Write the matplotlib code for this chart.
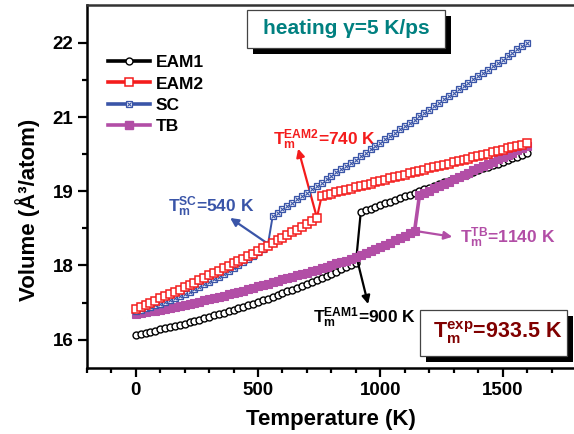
import numpy as np
import matplotlib
matplotlib.use("Agg")
import matplotlib.pyplot as plt
from matplotlib.lines import Line2D
from matplotlib.patches import Rectangle

plt.rcParams['font.family'] = ['Liberation Sans', 'DejaVu Sans']
plt.rcParams['font.weight'] = 'bold'
plt.rcParams['mathtext.fontset'] = 'custom'
plt.rcParams['mathtext.rm'] = 'Liberation Sans:bold'
plt.rcParams['mathtext.it'] = 'Liberation Sans:bold'
plt.rcParams['mathtext.bf'] = 'Liberation Sans:bold'

# temperature grid (K), every 20 K
temp = np.arange(0, 1601, 20)

# volume per atom (in the plot's own y units)
eam1 = [16.10, 16.12, 16.14, 16.16, 16.18, 16.21, 16.23, 16.25, 16.28, 16.30,
        16.32, 16.35, 16.38, 16.40, 16.43, 16.46, 16.49, 16.51, 16.54, 16.57,
        16.60, 16.64, 16.67, 16.70, 16.73, 16.77, 16.80, 16.83, 16.87, 16.90,
        16.94, 16.98, 17.01, 17.05, 17.09, 17.13, 17.17, 17.21, 17.25, 17.29,
        17.33, 17.37, 17.42, 17.46, 17.50, 17.55,
        18.58, 18.62, 18.65, 18.69, 18.72, 18.76, 18.79, 18.83, 18.86, 18.90,
        18.93, 18.97, 19.00, 19.04, 19.07, 19.11, 19.14, 19.18, 19.21, 19.25,
        19.28, 19.32, 19.35, 19.39, 19.42, 19.46, 19.49, 19.53, 19.56, 19.60,
        19.63, 19.67, 19.70, 19.74, 19.77]
eam2 = [16.62, 16.66, 16.71, 16.75, 16.79, 16.84, 16.88, 16.92, 16.97, 17.01,
        17.06, 17.11, 17.15, 17.20, 17.25, 17.30, 17.34, 17.39, 17.44, 17.49,
        17.54, 17.59, 17.64, 17.69, 17.74, 17.80, 17.85, 17.90, 17.95, 18.01,
        18.06, 18.11, 18.17, 18.22, 18.28, 18.34, 18.39, 18.45,
        18.90, 18.93, 18.95, 18.98, 19.00, 19.03, 19.05, 19.08, 19.10, 19.13,
        19.15, 19.18, 19.21, 19.23, 19.26, 19.28, 19.31, 19.33, 19.36, 19.38,
        19.41, 19.43, 19.46, 19.48, 19.51, 19.54, 19.56, 19.59, 19.61, 19.64,
        19.66, 19.69, 19.71, 19.74, 19.76, 19.79, 19.81, 19.84, 19.87, 19.89,
        19.92, 19.94, 19.97]
sc = [16.58, 16.61, 16.64, 16.67, 16.70, 16.73, 16.77, 16.81, 16.85, 16.89,
      16.93, 16.97, 17.02, 17.07, 17.12, 17.17, 17.22, 17.27, 17.33, 17.39,
      17.45, 17.51, 17.57, 17.64, 17.70, 17.77, 17.84, 17.91,
      18.50, 18.57, 18.64, 18.70, 18.77, 18.84, 18.90, 18.97, 19.04, 19.11,
      19.17, 19.24, 19.31, 19.38, 19.44, 19.51, 19.58, 19.64, 19.71, 19.78,
      19.85, 19.91, 19.98, 20.05, 20.12, 20.18, 20.25, 20.32, 20.38, 20.45,
      20.52, 20.59, 20.65, 20.72, 20.79, 20.86, 20.92, 20.99, 21.06, 21.13,
      21.19, 21.26, 21.33, 21.39, 21.46, 21.53, 21.60, 21.66, 21.73, 21.80,
      21.87, 21.93, 22.00]
tb = [16.52, 16.54, 16.55, 16.57, 16.59, 16.61, 16.63, 16.65, 16.67, 16.69,
      16.71, 16.73, 16.75, 16.77, 16.80, 16.82, 16.84, 16.87, 16.89, 16.92,
      16.94, 16.97, 16.99, 17.02, 17.05, 17.08, 17.10, 17.13, 17.16, 17.19,
      17.22, 17.25, 17.27, 17.30, 17.32, 17.35, 17.38, 17.41, 17.44, 17.47,
      17.50, 17.54, 17.57, 17.60, 17.64, 17.67, 17.71, 17.75, 17.79, 17.83,
      17.87, 17.92, 17.96, 18.01, 18.06, 18.10, 18.15, 18.20,
      18.92, 18.97, 19.01, 19.06, 19.10, 19.15, 19.19, 19.24, 19.28, 19.33,
      19.37, 19.42, 19.47, 19.51, 19.56, 19.60, 19.65, 19.69, 19.74, 19.78,
      19.83, 19.87, 19.92]

# y ticks as printed on the original (evenly spaced, labels as shown)
ytick_pos = [16, 17.5, 19, 20.5, 22]
ytick_lab = ['16', '18', '19', '21', '22']

black = 'black'
red = '#f41c1c'
blue = '#3a55a8'
magenta = '#b24ea6'
teal = '#008080'
darkred = '#800000'

W, H = 574, 434
fig = plt.figure(figsize=(W / 100, H / 100), dpi=100)
ax = fig.add_axes([86.8 / W, 1 - 367.9 / H, 486.8 / W, 362.7 / H])

ax.plot(temp, eam1, '-o', color=black, lw=1.6, ms=5.0, mfc='white', mew=1.0, zorder=3)
ax.plot(temp, tb, '-s', color=magenta, lw=2.6, ms=6.0, mfc=magenta, mew=0.8, zorder=4)
ax.plot(temp, sc, '-s', color=blue, lw=1.4, ms=4.8, mfc='white', mew=0.9, zorder=5)
ax.plot(temp, sc, 'x', color=blue, ms=3.4, mew=0.8, zorder=5)
ax.plot(temp, eam2, '-s', color=red, lw=1.5, ms=5.2, mfc='white', mew=1.1, zorder=6)

ax.set_xlim(-200, 1790)
ax.set_ylim(15.43, 22.76)
ax.set_xticks([0, 500, 1000, 1500])
ax.set_xticks(np.arange(-200, 1790, 100), minor=True)
ax.set_yticks(ytick_pos)
ax.set_yticklabels(ytick_lab)
ax.set_yticks([16.75, 18.25, 19.75, 21.25], minor=True)
ax.tick_params(which='both', direction='out', width=1.6, labelsize=13.5)
ax.tick_params(which='major', length=6.5)
ax.tick_params(which='minor', length=3.6)
ax.tick_params(axis='x', pad=4)
ax.tick_params(axis='y', pad=3)
for s in ['left', 'bottom', 'top']:
    ax.spines[s].set_linewidth(1.8)
ax.spines['top'].set_color('#333333')
ax.spines['right'].set_visible(False)

fig.text(331 / W, 1 - 420 / H, 'Temperature (K)', ha='center', va='center', fontsize=16)
fig.text(27.5 / W, 1 - 210 / H, 'Volume (Å³/atom)', ha='center', va='center',
         rotation=90, fontsize=16)

# legend
handles = [
    Line2D([], [], color=black, lw=2.6, marker='o', ms=5.0, mfc='white', mew=1.0),
    Line2D([], [], color=red, lw=2.6, marker='s', ms=5.2, mfc='white', mew=1.1),
    (Line2D([], [], color=blue, lw=2.6, marker='s', ms=4.8, mfc='white', mew=0.9),
     Line2D([], [], color=blue, ls='none', marker='x', ms=3.4, mew=0.8)),
    Line2D([], [], color=magenta, lw=2.6, marker='s', ms=6.0, mfc=magenta),
]
ax.legend(handles, ['EAM1', 'EAM2', 'SC', 'TB'], loc='upper left',
          bbox_to_anchor=(108 / W, 1 - 55 / H), bbox_transform=fig.transFigure,
          frameon=False, borderpad=0, borderaxespad=0, handlelength=2.4,
          handletextpad=0.35, labelspacing=0.36, fontsize=12.5, numpoints=1)

# melting point annotations
arrow = dict(arrowstyle='-|>', lw=1.6, mutation_scale=12, shrinkA=0, shrinkB=0)
ax.annotate('', xy=(664, 19.86), xytext=(741, 18.46),
            arrowprops=dict(arrow, color=red))
ax.text(561, 19.93, r'$\mathregular{T_m^{EAM2}}$=740 K', color=red,
        fontsize=12.5, ha='left', va='baseline')
ax.annotate('', xy=(386, 18.46), xytext=(540, 17.94),
            arrowprops=dict(arrow, color=blue))
ax.text(132, 18.58, r'$\mathregular{T_m^{SC}}$=540 K', color=blue,
        fontsize=12.5, ha='left', va='baseline')
ax.annotate('', xy=(950, 16.72), xytext=(905, 17.62),
            arrowprops=dict(arrow, color=black))
ax.text(725, 16.34, r'$\mathregular{T_m^{EAM1}}$=900 K', color=black,
        fontsize=12.5, ha='left', va='baseline')
ax.annotate('', xy=(1294, 18.08), xytext=(1140, 18.20),
            arrowprops=dict(arrow, color=magenta))
ax.text(1326, 17.95, r'$\mathregular{T_m^{TB}}$=1140 K', color=magenta,
        fontsize=12.5, ha='left', va='baseline')


def shadow_box(x0, y0, x1, y1, off=6):
    fig.add_artist(Rectangle(((x0 + off) / W, 1 - (y1 + off) / H), (x1 - x0) / W,
                             (y1 - y0) / H, transform=fig.transFigure,
                             fc='black', ec='black', lw=0, zorder=10))
    fig.add_artist(Rectangle((x0 / W, 1 - y1 / H), (x1 - x0) / W, (y1 - y0) / H,
                             transform=fig.transFigure, fc='white', ec='#444444',
                             lw=0.9, zorder=11))


shadow_box(247, 10, 445, 48)
fig.text(346 / W, 1 - 29 / H, 'heating γ=5 K/ps', color=teal, fontsize=15,
         ha='center', va='center', zorder=12)

shadow_box(420, 310, 567, 356)
fig.text(433 / W, 1 - 338 / H, r'$\mathregular{T_m^{exp}}$=933.5 K', color=darkred,
         fontsize=15.5, ha='left', va='baseline', zorder=12)

fig.savefig('out.png', dpi=100)
